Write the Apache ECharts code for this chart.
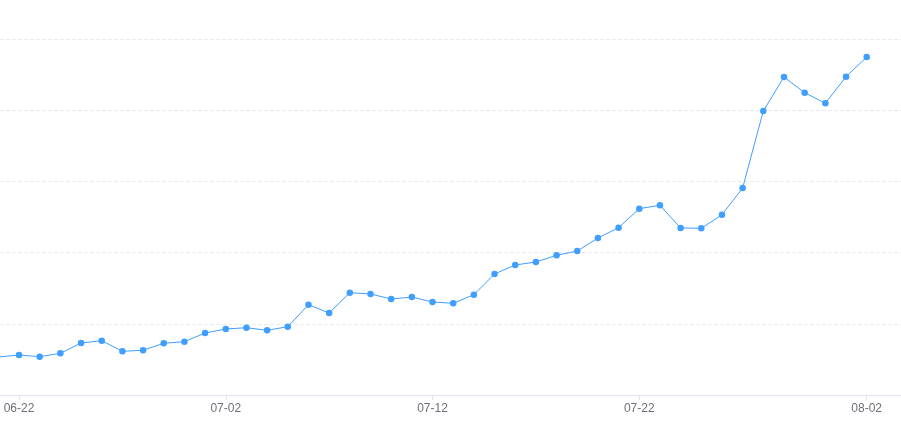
<!DOCTYPE html>
<html>
<head>
<meta charset="utf-8">
<script src="https://cdn.jsdelivr.net/npm/echarts@6/dist/echarts.min.js"></script>
<style>
html,body{margin:0;padding:0;background:#fff;}
#chart{width:901px;height:443px;}
</style>
</head>
<body>
<div id="chart"></div>
<script>
const categories = ['06-21','06-22','06-23','06-24','06-25','06-26','06-27','06-28','06-29','06-30',
  '07-01','07-02','07-03','07-04','07-05','07-06','07-07','07-08','07-09','07-10',
  '07-11','07-12','07-13','07-14','07-15','07-16','07-17','07-18','07-19','07-20',
  '07-21','07-22','07-23','07-24','07-25','07-26','07-27','07-28','07-29','07-30',
  '07-31','08-01','08-02'];
const values = [53.4,56.2,53.8,58.6,73.0,76.3,61.4,62.8,72.6,74.9,
  87.1,92.7,94.5,90.9,95.9,126.8,115.2,143.7,141.9,134.8,
  137.6,130.6,128.8,140.9,169.9,182.6,186.8,196.2,202.2,220.5,
  235.0,261.7,266.4,234.6,234.1,253.2,290.7,398.9,446.6,424.6,
  409.7,447.0,474.7];
const tickLabels = ['06-22','07-02','07-12','07-22','08-02'];

const seriesData = categories.map((c, i) => [i, values[i]]);
const tickIdx = tickLabels.map(t => categories.indexOf(t));

const chart = echarts.init(document.getElementById('chart'), null, {renderer:'canvas'});
chart.setOption({
  animation: false,
  grid: {left: 0, right: 0, top: 39, bottom: 48, containLabel: false},
  xAxis: {
    type: 'value',
    min: tickIdx[0] - 0.92,
    max: tickIdx[tickIdx.length-1] + 1.66,
    axisLine: {show: true, onZero: false, lineStyle: {color: '#E0E6F1'}},
    axisTick: {show: true, customValues: tickIdx, lineStyle: {color: '#E0E6F1'}},
    axisLabel: {
      customValues: tickIdx, color: '#6E7079', fontSize: 12, margin: 8,
      formatter: function(v){ return categories[Math.round(v)] || ''; }
    },
    splitLine: {show: false}
  },
  yAxis: {
    type: 'value',
    min: 0, max: 500, interval: 100,
    axisLabel: {show: false},
    axisLine: {show: false},
    axisTick: {show: false},
    splitLine: {lineStyle: {type: 'dashed', color: '#E8EAEE'}}
  },
  series: [{
    type: 'line',
    data: seriesData,
    symbol: 'circle',
    symbolSize: 6.5,
    showSymbol: true,
    lineStyle: {width: 1, color: '#409EFF'},
    itemStyle: {color: '#409EFF'}
  }]
});
</script>
</body>
</html>
